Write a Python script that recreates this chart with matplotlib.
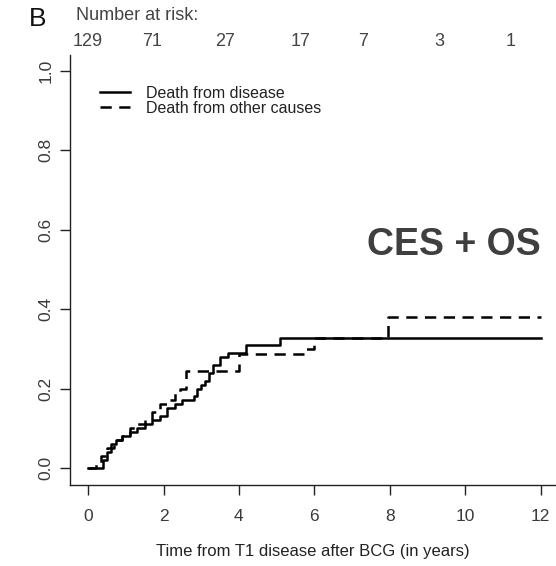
import numpy as np
import matplotlib
matplotlib.use("Agg")
import matplotlib.pyplot as plt

plt.rcParams['font.family'] = ['Liberation Sans', 'DejaVu Sans']

# cumulative incidence, death from disease (step after)
disease_t = [0, 0.4, 0.5, 0.6, 0.75, 0.9, 1.1, 1.3, 1.5, 1.7, 1.9, 2.1, 2.3, 2.5, 2.8, 2.9, 3.0, 3.1, 3.2, 3.3, 3.5, 3.7, 4.2, 5.1, 12]
disease_v = [0, 0.02, 0.04, 0.06, 0.07, 0.08, 0.09, 0.10, 0.11, 0.12, 0.13, 0.15, 0.16, 0.17, 0.18, 0.20, 0.21, 0.22, 0.24, 0.26, 0.28, 0.29, 0.31, 0.327, 0.327]

# death from other causes
other_t = [0, 0.2, 0.35, 0.5, 0.7, 0.9, 1.1, 1.3, 1.5, 1.7, 1.9, 2.1, 2.3, 2.45, 2.6, 4.0, 5.72, 6.0, 7.96, 12]
other_v = [0, 0.012, 0.03, 0.05, 0.07, 0.08, 0.10, 0.11, 0.12, 0.14, 0.16, 0.17, 0.19, 0.20, 0.245, 0.287, 0.30, 0.327, 0.38, 0.38]

risk_numbers = ['129', '71', '27', '17', '7', '3', '1']
risk_xpx = [88, 152, 225, 301, 363, 439, 511]

fig = plt.figure(figsize=(5.56, 5.66), dpi=100)
W, H = 556, 566
ax = fig.add_axes([70 / W, 1 - 485 / H, (W - 70) / W, (485 - 55) / H])

ax.step(disease_t, disease_v, where='post', color='black', lw=1.8, label='Death from disease')
ax.step(other_t, other_v, where='post', color='black', lw=1.8, dashes=(4.5, 3), label='Death from other causes')

ax.set_xlim(-0.48, 12.41)
ax.set_ylim(-0.043, 1.04)
ax.spines['top'].set_visible(False)
ax.spines['right'].set_visible(False)
for s in ['left', 'bottom']:
    ax.spines[s].set_linewidth(1.0)
    ax.spines[s].set_color('#222222')

ax.set_xticks(np.arange(0, 13, 2))
ax.set_yticks(np.arange(0, 1.01, 0.2))
ax.set_yticklabels(['0.0', '0.2', '0.4', '0.6', '0.8', '1.0'], rotation=90, va='center')
ax.tick_params(axis='both', direction='out', length=7, width=1.0, colors='#222222',
               labelsize=12.5, labelcolor='#3a3a3a')
ax.tick_params(axis='x', pad=10)
ax.tick_params(axis='y', pad=5)

ax.set_xlabel('Time from T1 disease after BCG (in years)', fontsize=12, color='#222222')
ax.xaxis.set_label_coords(0.5, -0.137)

leg = ax.legend(loc='upper left', bbox_to_anchor=(100 / W, 1 - 86 / H), bbox_transform=fig.transFigure,
                frameon=False, fontsize=11.5, handlelength=1.9, handletextpad=1.0,
                labelspacing=0.0, borderaxespad=0, borderpad=0)
for t in leg.get_texts():
    t.set_color('#222222')

ax.text(9.71, 0.562, 'CES + OS', fontsize=27, fontweight='bold', color='#3f3f3f',
        ha='center', va='center')

fig.text(29 / W, 1 - 19 / H, 'B', fontsize=19, color='#111111', va='center', ha='left')
fig.text(76 / W, 1 - 16 / H, 'Number at risk:', fontsize=13, color='#444444', va='center', ha='left')
for n, xp in zip(risk_numbers, risk_xpx):
    fig.text(xp / W, 1 - 42 / H, n, fontsize=13, color='#444444', va='center', ha='center')

fig.savefig('out.png', dpi=100)
